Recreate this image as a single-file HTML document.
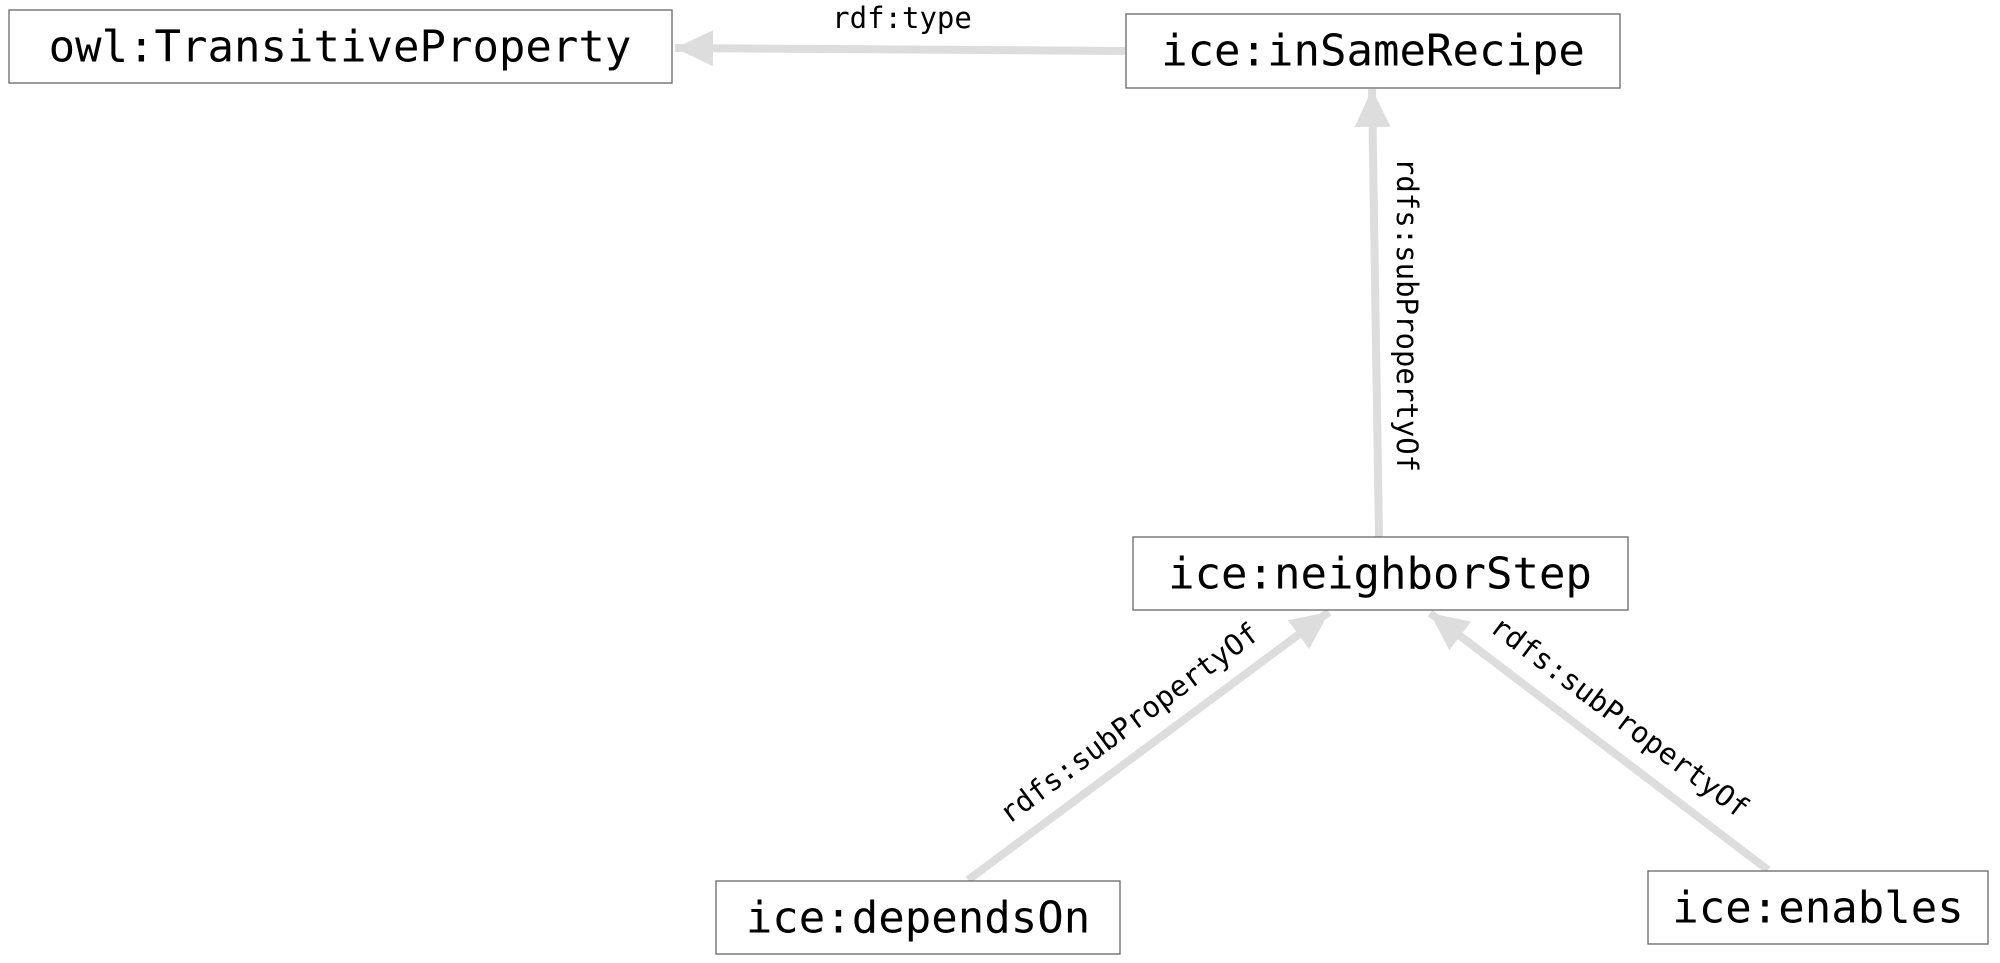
<!DOCTYPE html>
<html><head><meta charset="utf-8"><style>
html,body{margin:0;padding:0;background:#fff;}
svg{display:block;}
.box{fill:#fff;stroke:#666;stroke-width:1.3;}
.n{font-family:"DejaVu Sans Mono","Liberation Mono",monospace;font-size:44px;fill:#000;text-anchor:middle;dominant-baseline:central;}
.l{font-family:"DejaVu Sans Mono","Liberation Mono",monospace;font-size:29px;fill:#000;text-anchor:middle;dominant-baseline:central;}
.e{stroke:#dddddd;stroke-width:8;fill:none;}
.h{fill:#dddddd;}
</style></head><body>
<svg width="2000" height="963" viewBox="0 0 2000 963" xmlns="http://www.w3.org/2000/svg">
<defs>
<marker id="a" markerUnits="userSpaceOnUse" markerWidth="44" markerHeight="44" viewBox="0 0 44 44" refX="38" refY="22" orient="auto">
<polygon class="h" points="0,4 38,22 0,40"/>
</marker>
</defs>
<line class="e" x1="1125" y1="51" x2="675" y2="48" marker-end="url(#a)"/>
<line class="e" x1="1379" y1="537" x2="1372" y2="89" marker-end="url(#a)"/>
<line class="e" x1="968" y1="880" x2="1329" y2="612" marker-end="url(#a)"/>
<line class="e" x1="1768" y1="870" x2="1430" y2="613" marker-end="url(#a)"/>

<rect class="box" x="9" y="10" width="663" height="73"/>
<text class="n" x="340" y="47">owl:TransitiveProperty</text>
<rect class="box" x="1126" y="14" width="494" height="74"/>
<text class="n" x="1373" y="51">ice:inSameRecipe</text>
<rect class="box" x="1133" y="537" width="495" height="73"/>
<text class="n" x="1380" y="574">ice:neighborStep</text>
<rect class="box" x="716" y="881" width="404" height="73"/>
<text class="n" x="918" y="918">ice:dependsOn</text>
<rect class="box" x="1648" y="871" width="340" height="73"/>
<text class="n" x="1818" y="908">ice:enables</text>

<text class="l" x="902" y="18">rdf:type</text>
<text class="l" transform="translate(1407,315) rotate(90)">rdfs:subPropertyOf</text>
<text class="l" transform="translate(1129,723) rotate(-36.6)">rdfs:subPropertyOf</text>
<text class="l" transform="translate(1620,717) rotate(37)">rdfs:subPropertyOf</text>
</svg>
</body></html>
